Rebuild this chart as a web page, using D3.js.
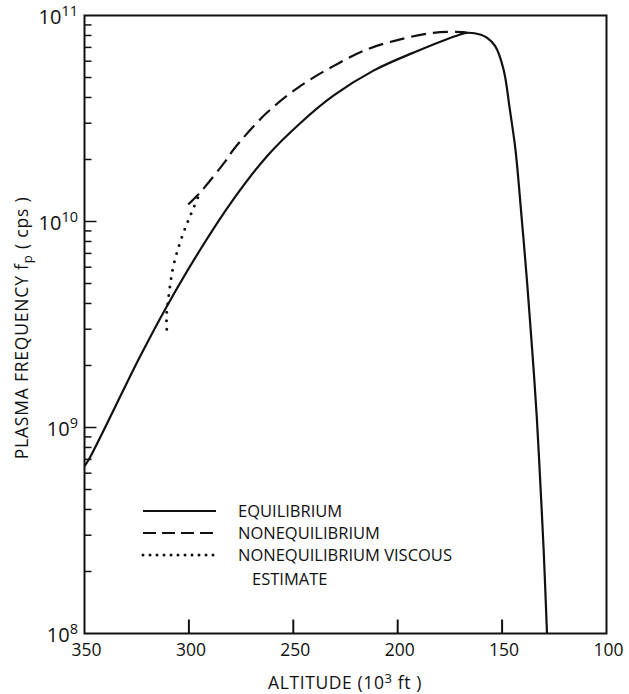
<!DOCTYPE html>
<html>
<head>
<meta charset="utf-8">
<script src="https://cdn.jsdelivr.net/npm/d3@7"></script>
<style>
  body { margin: 0; background: #fff; }
  svg text { font-family: "Open Sans", "DejaVu Sans", sans-serif; fill: #111; }
</style>
</head>
<body>
<div id="chart"></div>
<script>
// Plasma frequency vs altitude (altitude in 10^3 ft, frequency in cps)

var equilibriumAlt  = [350, 348, 323.4, 310.6, 294.6, 278.7, 262.7, 246.7, 230.8, 211.6, 190.8, 170.1, 166.9, 160.5, 157.3, 153.3, 149.3, 146.3, 143.6, 140.7, 138.0, 135.6, 133.4, 131.7, 130.1, 128.5];
var equilibriumFreq = [6.5e8, 6.97e8, 2.21e9, 3.87e9, 7.29e9, 1.28e10, 2.07e10, 3.0e10, 4.08e10, 5.4e10, 6.71e10, 8.09e10, 8.24e10, 8.09e10, 7.8e10, 7.1e10, 5.47e10, 3.5e10, 2.23e10, 1.06e10, 5.04e9, 2.39e9, 1.13e9, 5.37e8, 2.55e8, 1e8];

var nonequilibriumAlt  = [300.3, 294.7, 281.9, 278.7, 262.7, 246.7, 230.8, 214.8, 198.8, 182.9, 168.5, 166.9];
var nonequilibriumFreq = [1.21e10, 1.38e10, 2.0e10, 2.23e10, 3.37e10, 4.54e10, 5.68e10, 6.84e10, 7.66e10, 8.24e10, 8.3e10, 8.24e10];

var viscousAlt  = [310.6, 310.7, 310.0, 309.0, 307.7, 305.5, 303.0, 300.5, 298.0, 295.0];
var viscousFreq = [3.0e9, 3.5e9, 4.1e9, 4.9e9, 5.9e9, 7.2e9, 8.6e9, 1.0e10, 1.15e10, 1.36e10];

var xTicks = [350, 300, 250, 200, 150, 100];
var yDecades = [8, 9, 10, 11];
var legendLabels = ["EQUILIBRIUM", "NONEQUILIBRIUM", "NONEQUILIBRIUM VISCOUS", "ESTIMATE"];

var width = 629, height = 694;
var plotL = 84.5, plotR = 606.5, plotT = 15.5, plotB = 633.5;

var svg = d3.select("#chart").append("svg")
    .attr("width", width)
    .attr("height", height);

var x = d3.scaleLinear().domain([350, 100]).range([plotL, plotR]);
var y = d3.scaleLog().domain([1e8, 1e11]).range([plotB, plotT]);

// frame
svg.append("rect")
    .attr("x", plotL).attr("y", plotT)
    .attr("width", plotR - plotL).attr("height", plotB - plotT)
    .attr("fill", "none").attr("stroke", "#111").attr("stroke-width", 2);

// x ticks (inward, interior only)
svg.selectAll(".xtick")
    .data(xTicks.slice(1, -1))
    .enter().append("line")
    .attr("x1", function (d) { return x(d); })
    .attr("x2", function (d) { return x(d); })
    .attr("y1", plotB).attr("y2", plotB - 14)
    .attr("stroke", "#111").attr("stroke-width", 2);

svg.selectAll(".xlabel")
    .data(xTicks)
    .enter().append("text")
    .attr("x", function (d) { return x(d) + 2; })
    .attr("y", 656)
    .attr("text-anchor", "middle")
    .attr("font-size", "17.5px")
    .text(function (d) { return d; });

// y ticks: majors + minors
var minor = [];
yDecades.slice(0, -1).forEach(function (e) {
    for (var k = 2; k <= 9; k++) minor.push(k * Math.pow(10, e));
});
svg.selectAll(".ymin")
    .data(minor)
    .enter().append("line")
    .attr("x1", plotL).attr("x2", plotL + 7)
    .attr("y1", function (d) { return y(d); })
    .attr("y2", function (d) { return y(d); })
    .attr("stroke", "#111").attr("stroke-width", 1.5);

svg.selectAll(".ymaj")
    .data(yDecades.slice(1, -1))
    .enter().append("line")
    .attr("x1", plotL).attr("x2", plotL + 12)
    .attr("y1", function (d) { return y(Math.pow(10, d)); })
    .attr("y2", function (d) { return y(Math.pow(10, d)); })
    .attr("stroke", "#111").attr("stroke-width", 1.5);

var ylab = svg.selectAll(".ylabel")
    .data(yDecades)
    .enter().append("text")
    .attr("x", 78)
    .attr("y", function (d) { return y(Math.pow(10, d)) + 8; })
    .attr("text-anchor", "end")
    .attr("font-size", "20px");
ylab.append("tspan").text("10");
ylab.append("tspan")
    .attr("dy", -8)
    .attr("font-size", "14.5px")
    .text(function (d) { return d; });

// axis titles
var xt = svg.append("text")
    .attr("x", 345).attr("y", 689)
    .attr("text-anchor", "middle")
    .attr("letter-spacing", "0.6px")
    .attr("font-size", "17.5px");
xt.append("tspan").text("ALTITUDE  (10");
xt.append("tspan").attr("dy", -6).attr("font-size", "13px").text("3");
xt.append("tspan").attr("dy", 6).text(" ft )");

var yt = svg.append("text")
    .attr("transform", "translate(28,328) rotate(-90)")
    .attr("text-anchor", "middle")
    .attr("letter-spacing", "0.8px")
    .attr("font-size", "17.5px");
yt.append("tspan").text("PLASMA  FREQUENCY  f");
yt.append("tspan").attr("dy", 4).attr("font-size", "13px").text("p");
yt.append("tspan").attr("dy", -4).text("  ( cps )");

// curves
var line = d3.line()
    .x(function (d) { return x(d[0]); })
    .y(function (d) { return y(d[1]); })
    .curve(d3.curveCatmullRom.alpha(0.5));

function pairs(a, b) { return a.map(function (v, i) { return [v, b[i]]; }); }

svg.append("path")
    .datum(pairs(equilibriumAlt, equilibriumFreq))
    .attr("d", line)
    .attr("fill", "none").attr("stroke", "#111").attr("stroke-width", 2.2);

svg.append("path")
    .datum(pairs(nonequilibriumAlt, nonequilibriumFreq))
    .attr("d", line)
    .attr("fill", "none").attr("stroke", "#111").attr("stroke-width", 2.2)
    .attr("stroke-dasharray", "15,7");

svg.append("path")
    .datum(pairs(viscousAlt, viscousFreq))
    .attr("d", line)
    .attr("fill", "none").attr("stroke", "#111").attr("stroke-width", 3)
    .attr("stroke-linecap", "round")
    .attr("stroke-dasharray", "0,8.5");

// legend
var legY = [511, 533, 555, 579];
var legStyles = [
    { dash: null, w: 2, cap: "butt" },
    { dash: "13,6", w: 2, cap: "butt" },
    { dash: "0,7", w: 3, cap: "round" }
];
legStyles.forEach(function (s, i) {
    svg.append("line")
        .attr("x1", 143).attr("x2", 216)
        .attr("y1", legY[i]).attr("y2", legY[i])
        .attr("stroke", "#111").attr("stroke-width", s.w)
        .attr("stroke-linecap", s.cap)
        .attr("stroke-dasharray", s.dash);
});
svg.selectAll(".legtext")
    .data(legendLabels)
    .enter().append("text")
    .attr("x", function (d, i) { return i === 3 ? 252 : 238; })
    .attr("y", function (d, i) { return legY[i] + 6; })
    .attr("font-size", "16.5px")
    .text(function (d) { return d; });
</script>
</body>
</html>
